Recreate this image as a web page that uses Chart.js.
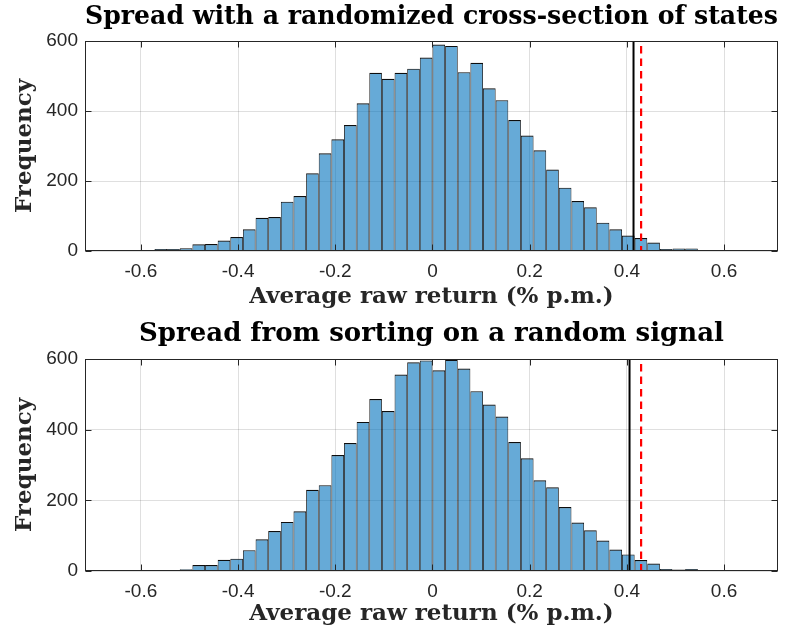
<!DOCTYPE html>
<html><head><meta charset="utf-8">
<script src="https://cdn.jsdelivr.net/npm/chart.js@4.4.0/dist/chart.umd.min.js"></script>
<style>
html,body{margin:0;padding:0;background:#fff;}
body{width:801px;height:635px;position:relative;overflow:hidden;}
canvas{position:absolute;left:0;}
</style></head><body>
<canvas id="c1" width="801" height="317" style="top:0px"></canvas>
<canvas id="c2" width="801" height="318" style="top:317px"></canvas>
<script>
// ---- data ----
const binCenters = [-0.637,-0.611,-0.585,-0.559,-0.533,-0.507,-0.481,-0.455,-0.429,-0.403,
  -0.377,-0.351,-0.325,-0.299,-0.273,-0.247,-0.221,-0.195,-0.169,-0.143,
  -0.117,-0.091,-0.065,-0.039,-0.013,0.013,0.039,0.065,0.091,0.117,
  0.143,0.169,0.195,0.221,0.247,0.273,0.299,0.325,0.351,0.377,
  0.403,0.429,0.455,0.481,0.507,0.533,0.559,0.585,0.611,0.637];
const countsStates = [1,3,3,6,6,8,19,20,30,40,
  62,95,97,141,157,222,279,319,360,422,
  509,492,509,521,553,590,586,511,538,465,
  431,374,330,288,233,181,143,125,81,62,
  44,37,24,6,7,7,2,1,0,1];
const countsSignal = [1,1,1,3,3,5,17,17,32,35,
  59,90,113,139,169,230,243,328,362,422,
  487,453,556,591,596,568,598,573,509,471,
  437,365,319,257,237,181,137,115,86,61,
  47,31,21,6,4,6,1,2,2,2];
const xTickValues = [-0.6,-0.4,-0.2,0,0.2,0.4,0.6];
const yTickValues = [0,200,400,600];
const xRange = [-0.715, 0.711];
const yRange = [0, 600];
const titleStates = 'Spread with a randomized cross-section of states';
const titleSignal = 'Spread from sorting on a random signal';
const xLabel = 'Average raw return (% p.m.)';
const yLabel = 'Frequency';
const solidLineStates = 0.4137;
const solidLineSignal = 0.4055;
const dashedLineValue = 0.4293;

// ---- plugins ----
const refLines = {
  id: 'refLines',
  afterDatasetsDraw(chart, args, opts) {
    const {ctx, chartArea: a, scales: {x}} = chart;
    ctx.save();
    const xb = x.getPixelForValue(opts.solid);
    ctx.strokeStyle = '#000'; ctx.lineWidth = 2;
    ctx.beginPath(); ctx.moveTo(xb, a.top); ctx.lineTo(xb, a.bottom); ctx.stroke();
    const xr = x.getPixelForValue(opts.dashed);
    ctx.strokeStyle = '#ff0000'; ctx.lineWidth = 2.2;
    ctx.setLineDash([7.5, 5]); ctx.lineDashOffset = 7.5;
    ctx.beginPath(); ctx.moveTo(xr, a.top); ctx.lineTo(xr, a.bottom); ctx.stroke();
    ctx.restore();
  }
};
const axesBox = {
  id: 'axesBox',
  afterDraw(chart) {
    const {ctx, chartArea: a, scales: {x, y}} = chart;
    ctx.save();
    ctx.strokeStyle = '#262626'; ctx.lineWidth = 1;
    const L = Math.round(a.left) + 0.5, R = Math.round(a.right) - 0.5;
    const T = Math.round(a.top) + 0.5, B = Math.round(a.bottom) - 0.5;
    ctx.strokeRect(L, T, R - L, B - T);
    const tl = 6;
    ctx.beginPath();
    x.ticks.forEach(t => {
      const px = Math.round(x.getPixelForValue(t.value)) + 0.5;
      ctx.moveTo(px, B); ctx.lineTo(px, B - tl);
      ctx.moveTo(px, T); ctx.lineTo(px, T + tl);
    });
    y.ticks.forEach(t => {
      const py = Math.round(y.getPixelForValue(t.value)) + 0.5;
      ctx.moveTo(L, py); ctx.lineTo(L + tl, py);
      ctx.moveTo(R, py); ctx.lineTo(R - tl, py);
    });
    ctx.stroke();
    ctx.restore();
  }
};

const gridColor = 'rgba(38,38,38,0.15)';
const tickFont = {family: 'Liberation Sans', size: 19};
const labelFont = {family: 'DejaVu Serif', weight: 'bold', size: 23, lineHeight: 1.2};

function makeChart(id, title, counts, solidVal, g) {
  return new Chart(document.getElementById(id), {
    type: 'bar',
    data: {
      datasets: [{
        data: binCenters.map((c, i) => ({x: c, y: counts[i]})),
        backgroundColor: 'rgba(0,114,189,0.6)',
        borderColor: 'rgba(0,0,0,0.95)',
        borderWidth: {top: 1.2, left: 0.8, right: 0.8, bottom: 0},
        barPercentage: 1, categoryPercentage: 1, inflateAmount: 0
      }]
    },
    options: {
      responsive: false, animation: false, devicePixelRatio: 1,
      layout: {padding: {left: 0, right: 23, top: 0, bottom: 0}},
      plugins: {
        legend: {display: false}, tooltip: {enabled: false},
        title: {display: true, text: title, fullSize: false, color: '#000',
          font: {family: 'DejaVu Serif', weight: 'bold', size: 26, lineHeight: 1.2},
          padding: {top: 2, bottom: g.titleBottom}},
        refLines: {solid: solidVal, dashed: dashedLineValue}
      },
      scales: {
        x: {
          type: 'linear', min: xRange[0], max: xRange[1], offset: false,
          grid: {offset: false, color: gridColor, drawTicks: false},
          border: {display: false},
          ticks: {padding: 9, color: '#262626', font: tickFont, maxRotation: 0, autoSkip: false,
            callback: v => String(v)},
          afterBuildTicks: s => { s.ticks = xTickValues.map(v => ({value: v})); },
          afterFit: s => { s.height = g.xH; },
          title: {display: true, text: xLabel, color: '#262626', font: labelFont, padding: {top: 0, bottom: g.xTitleBottom}}
        },
        y: {
          type: 'linear', min: yRange[0], max: yRange[1],
          grid: {color: gridColor, drawTicks: false},
          border: {display: false},
          ticks: {padding: 7, color: '#262626', font: tickFont, callback: v => String(v)},
          afterBuildTicks: s => { s.ticks = yTickValues.map(v => ({value: v})); },
          afterFit: s => { s.width = 85; },
          title: {display: true, text: yLabel, color: '#262626', font: labelFont, padding: {top: 11, bottom: 0}}
        }
      }
    },
    plugins: [refLines, axesBox]
  });
}

makeChart('c1', titleStates, countsStates, solidLineStates, {titleBottom: 7.8, xH: 66, xTitleBottom: 6});
makeChart('c2', titleSignal, countsSignal, solidLineSignal, {titleBottom: 8.8, xH: 64, xTitleBottom: 7});
</script>
</body></html>
